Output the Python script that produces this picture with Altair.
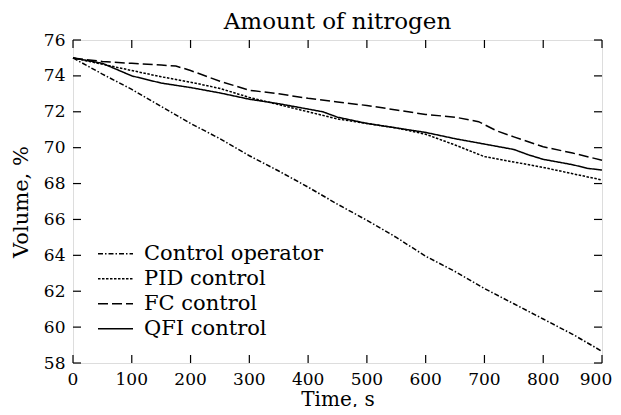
import altair as alt
import pandas as pd

series_names = ["Control operator", "PID control", "FC control", "QFI control"]

t_op = [0, 50, 100, 150, 200, 250, 300, 350, 400, 450, 500, 550, 600, 650, 700, 750, 800, 850, 900]
v_op = [75.0, 74.1, 73.25, 72.3, 71.35, 70.5, 69.55, 68.7, 67.8, 66.85, 65.95, 65.0, 63.95, 63.1, 62.15, 61.3, 60.45, 59.6, 58.65]

t_pid = [0, 50, 100, 150, 200, 250, 300, 350, 400, 450, 500, 550, 600, 650, 700, 750, 800, 850, 900]
v_pid = [75.0, 74.65, 74.3, 73.95, 73.65, 73.3, 72.8, 72.4, 72.0, 71.6, 71.35, 71.1, 70.75, 70.15, 69.5, 69.2, 68.9, 68.55, 68.2]

t_fc = [0, 50, 100, 150, 175, 200, 250, 300, 350, 400, 450, 500, 550, 600, 650, 690, 720, 750, 800, 850, 900]
v_fc = [75.0, 74.8, 74.7, 74.6, 74.55, 74.3, 73.7, 73.2, 73.0, 72.75, 72.55, 72.35, 72.1, 71.85, 71.7, 71.45, 70.95, 70.6, 70.05, 69.7, 69.3]

t_qfi = [0, 50, 100, 150, 200, 250, 300, 350, 400, 425, 450, 500, 550, 600, 650, 700, 750, 775, 800, 850, 875, 900]
v_qfi = [75.0, 74.7, 74.0, 73.6, 73.35, 73.05, 72.7, 72.45, 72.15, 72.0, 71.7, 71.35, 71.1, 70.85, 70.5, 70.2, 69.9, 69.6, 69.35, 69.05, 68.85, 68.75]

x_ticks = [0, 100, 200, 300, 400, 500, 600, 700, 800, 900]
y_ticks = [58, 60, 62, 64, 66, 68, 70, 72, 74, 76]

dashes = [[5, 2, 1.5, 2], [2.5, 1.5], [10, 4], [1, 0]]

rows = []
for name, ts, vs in zip(series_names, [t_op, t_pid, t_fc, t_qfi], [v_op, v_pid, v_fc, v_qfi]):
    for t, v in zip(ts, vs):
        rows.append({"time": t, "volume": v, "series": name})
df = pd.DataFrame(rows)

xt = pd.DataFrame({"time": x_ticks})
xt_main = pd.DataFrame({"time": x_ticks[:-1]})
xt_last = pd.DataFrame({"time": x_ticks[-1:]})
yt = pd.DataFrame({"volume": y_ticks})

W, H = 529, 323
FONT = "DejaVu Serif"
TICK = 8

xscale = alt.Scale(domain=[0, 900], nice=False, zero=False)
yscale = alt.Scale(domain=[58, 76], nice=False, zero=False)

xaxis = alt.Axis(values=x_ticks, title="Time, s", ticks=False, domain=False, grid=False,
                 labels=False, titleFontSize=20, titleFont=FONT, titleFontWeight="normal",
                 titleColor="black", titleY=42, titleBaseline="alphabetic")
yaxis = alt.Axis(values=y_ticks, title="Volume, %", ticks=False, domain=False, grid=False,
                 labelPadding=8, titlePadding=12, labelFontSize=17, titleFontSize=21,
                 labelFont=FONT, titleFont=FONT, titleFontWeight="normal",
                 labelColor="black", titleColor="black", labelFlush=False)

lines = alt.Chart(df).mark_line(color="black", strokeWidth=1.5).encode(
    x=alt.X("time:Q", scale=xscale, axis=xaxis),
    y=alt.Y("volume:Q", scale=yscale, axis=yaxis),
    strokeDash=alt.StrokeDash("series:N", sort=series_names,
                              scale=alt.Scale(domain=series_names, range=dashes),
                              legend=alt.Legend(title=None, orient="none", legendX=24, legendY=201.5,
                                                symbolType="stroke", symbolSize=1225,
                                                symbolStrokeWidth=1.5, symbolStrokeColor="black",
                                                labelFont=FONT, labelFontSize=21, labelColor="black",
                                                labelOffset=10, labelLimit=400, rowPadding=0,
                                                clipHeight=24.5, padding=0)),
)

rule = dict(color="black", strokeWidth=1.2)
bx = alt.Chart(xt).mark_rule(**rule).encode(
    x=alt.X("time:Q", scale=xscale, axis=xaxis), y=alt.value(H), y2=alt.value(H - TICK))
tx = alt.Chart(xt).mark_rule(**rule).encode(
    x=alt.X("time:Q", scale=xscale, axis=xaxis), y=alt.value(0), y2=alt.value(TICK))
ly = alt.Chart(yt).mark_rule(**rule).encode(
    y=alt.Y("volume:Q", scale=yscale, axis=yaxis), x=alt.value(0), x2=alt.value(TICK))
ry = alt.Chart(yt).mark_rule(**rule).encode(
    y=alt.Y("volume:Q", scale=yscale, axis=yaxis), x=alt.value(W), x2=alt.value(W - TICK))

txt = dict(font=FONT, fontSize=17, color="black", baseline="alphabetic", align="center")
lab_main = alt.Chart(xt_main).mark_text(**txt).encode(
    x=alt.X("time:Q", scale=xscale, axis=xaxis), y=alt.value(H + 22), text="time:Q")
lab_last = alt.Chart(xt_last).mark_text(dx=-6, **txt).encode(
    x=alt.X("time:Q", scale=xscale, axis=xaxis), y=alt.value(H + 22), text="time:Q")

chart = alt.layer(lines, bx, tx, ly, ry, lab_main, lab_last).properties(
    width=W, height=H,
    title=alt.TitleParams("Amount of nitrogen", font=FONT, fontSize=23, fontWeight="normal",
                          color="black", anchor="middle", offset=0, dy=3),
    autosize=alt.AutoSizeParams(type="none"),
    padding={"left": 65, "top": 32, "right": 11, "bottom": 44},
).configure_view(stroke="black", strokeWidth=1.5).configure(background="white")

chart.save("out.html", embed_options={"renderer": "svg", "actions": False})
